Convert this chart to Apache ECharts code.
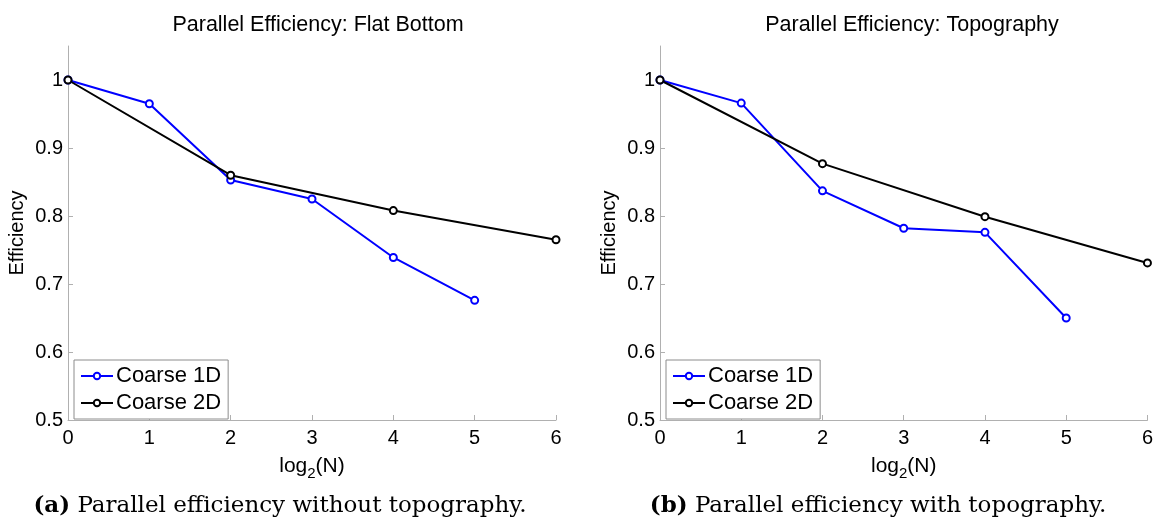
<!DOCTYPE html>
<html>
<head>
<meta charset="utf-8">
<script src="https://cdn.jsdelivr.net/npm/echarts@6/dist/echarts.min.js"></script>
<style>
  html, body { margin: 0; padding: 0; background: #fff; }
  #chart { width: 1156px; height: 518px; }
</style>
</head>
<body>
<div id="chart"></div>
<script>
// log2 of the number of subdomains
const steps1D = [0, 1, 2, 3, 4, 5];
const steps2D = [0, 2, 4, 6];

// Parallel efficiency, flat bottom case
const flat1D = [1.0, 0.965, 0.853, 0.825, 0.739, 0.676];
const flat2D = [1.0, 0.860, 0.808, 0.765];

// Parallel efficiency, topography case
const topo1D = [1.0, 0.966, 0.837, 0.782, 0.776, 0.650];
const topo2D = [1.0, 0.877, 0.799, 0.731];

const panelTitles = ['Parallel Efficiency: Flat Bottom', 'Parallel Efficiency: Topography'];
const captions = [
  ['(a)', 'Parallel efficiency without topography.'],
  ['(b)', 'Parallel efficiency with topography.']
];
const seriesNames = ['Coarse 1D', 'Coarse 2D'];
const yTicks = [0.5, 0.6, 0.7, 0.8, 0.9, 1.0];
const xTicks = [0, 1, 2, 3, 4, 5, 6];

const SANS = 'Liberation Sans, Arial, Helvetica, sans-serif';
const SERIF = 'DejaVu Serif, Liberation Serif, serif';
const AXIS_GRAY = '#b0b0b0';

const pairs = (xs, ys) => xs.map((x, i) => [x, ys[i]]);

const grids = [
  { left: 68, width: 488, top: 46, height: 374 },
  { left: 660, width: 488, top: 46, height: 374 }
];

function xAxis(i) {
  return {
    type: 'value', gridIndex: i, min: 0, max: 6, interval: 1,
    name: '{n|log}{s|2}{n|(N)}', nameLocation: 'middle', nameGap: 31,
    nameTextStyle: {
      rich: {
        n: { fontFamily: SANS, fontSize: 21, color: '#000' },
        s: { fontFamily: SANS, fontSize: 15, color: '#000', padding: [15, 0, 0, 0] }
      }
    },
    axisLine: { show: true, lineStyle: { color: AXIS_GRAY, width: 1 } },
    axisTick: { show: true, inside: true, length: 5, lineStyle: { color: AXIS_GRAY }, customValues: xTicks },
    axisLabel: { color: '#000', fontFamily: SANS, fontSize: 20, margin: 8, customValues: xTicks },
    splitLine: { show: false }
  };
}

function yAxis(i) {
  return {
    type: 'value', gridIndex: i, min: 0.5, max: 1.05,
    name: 'Efficiency', nameLocation: 'middle', nameGap: 41, nameRotate: 90,
    nameTextStyle: { fontFamily: SANS, fontSize: 20, color: '#000' },
    axisLine: { show: true, lineStyle: { color: AXIS_GRAY, width: 1 } },
    axisTick: { show: true, inside: true, length: 5, lineStyle: { color: AXIS_GRAY }, customValues: yTicks },
    axisLabel: {
      color: '#000', fontFamily: SANS, fontSize: 20, margin: 5, customValues: yTicks,
      formatter: v => String(parseFloat(Number(v).toFixed(1)))
    },
    splitLine: { show: false }
  };
}

function lineSeries(name, i, xs, ys, color) {
  return {
    name, type: 'line', xAxisIndex: i, yAxisIndex: i,
    data: pairs(xs, ys),
    symbol: 'emptyCircle', symbolSize: 7,
    lineStyle: { color, width: 2 },
    itemStyle: { color, borderColor: color, borderWidth: 1.6 },
    emphasis: { disabled: true },
    animation: false
  };
}

function legend(left) {
  return {
    orient: 'vertical', left, top: 360,
    data: seriesNames,
    itemWidth: 32, itemHeight: 8, itemGap: 5,
    padding: [5, 7, 5, 6],
    borderColor: '#8c8c8c', borderWidth: 1, backgroundColor: '#fff',
    textStyle: { fontFamily: SANS, fontSize: 22, color: '#000', padding: [0, 0, 0, -2] },
    selectedMode: false
  };
}

function caption(x, parts) {
  return {
    type: 'text', x, y: 506,
    style: {
      text: '{b|' + parts[0] + '} ' + parts[1],
      font: '23px ' + SERIF, fill: '#000',
      align: 'center', verticalAlign: 'middle',
      rich: { b: { fontFamily: SERIF, fontSize: 23, fontWeight: 'bold', fill: '#000' } }
    }
  };
}

const titleStyle = { fontFamily: SANS, fontSize: 21.5, fontWeight: 'normal', color: '#000' };

const option = {
  animation: false,
  backgroundColor: '#fff',
  title: [
    { text: panelTitles[0], left: 313, top: 9, textAlign: 'center', textStyle: titleStyle },
    { text: panelTitles[1], left: 907, top: 9, textAlign: 'center', textStyle: titleStyle }
  ],
  grid: grids,
  xAxis: [xAxis(0), xAxis(1)],
  yAxis: [yAxis(0), yAxis(1)],
  legend: [legend(74), legend(666)],
  series: [
    lineSeries(seriesNames[0], 0, steps1D, flat1D, '#0000ff'),
    lineSeries(seriesNames[1], 0, steps2D, flat2D, '#000000'),
    lineSeries(seriesNames[0], 1, steps1D, topo1D, '#0000ff'),
    lineSeries(seriesNames[1], 1, steps2D, topo2D, '#000000')
  ],
  graphic: [caption(280, captions[0]), caption(878, captions[1])]
};

const chart = echarts.init(document.getElementById('chart'), null, { renderer: 'canvas' });
chart.setOption(option);
</script>
</body>
</html>
